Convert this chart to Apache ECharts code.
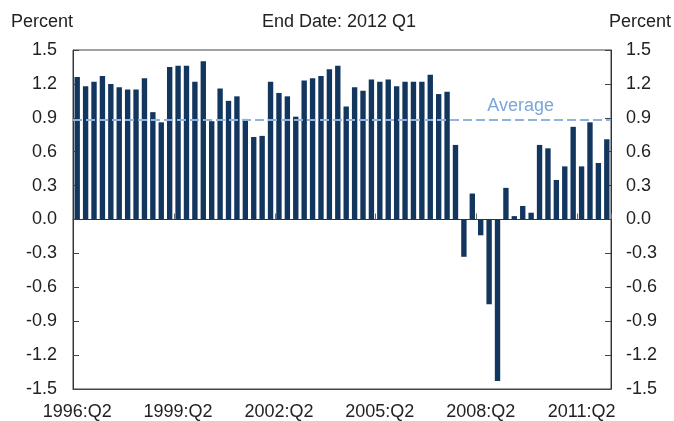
<!DOCTYPE html>
<html><head><meta charset="utf-8">
<script src="https://cdn.jsdelivr.net/npm/echarts@6/dist/echarts.min.js"></script>
<style>html,body{margin:0;padding:0;background:#fff}#c{width:674px;height:421px}</style>
</head><body><div id="c"></div>
<script>
// Quarterly categories 1996:Q2 .. 2012:Q1
const quarters = [];
for (let y = 1996; y <= 2012; y++) {
  for (let q = 1; q <= 4; q++) {
    if ((y === 1996 && q < 2) || (y === 2012 && q > 1)) continue;
    quarters.push(y + ':Q' + q);
  }
}
const values = [
  1.26, 1.18, 1.22, 1.27, 1.20, 1.17, 1.15, 1.15, 1.25, 0.95, 0.86, 1.35,
  1.36, 1.36, 1.22, 1.40, 0.87, 1.16, 1.05, 1.09, 0.89, 0.73, 0.74, 1.22,
  1.12, 1.09, 0.91, 1.23, 1.25, 1.27, 1.33, 1.36, 1.00, 1.17, 1.14, 1.24,
  1.22, 1.24, 1.18, 1.22, 1.22, 1.22, 1.28, 1.11, 1.13, 0.66,
  -0.33, 0.23, -0.14, -0.75, -1.43, 0.28, 0.03, 0.12, 0.06, 0.66, 0.63, 0.35,
  0.47, 0.82, 0.47, 0.86, 0.50, 0.71
];
const averageValue = 0.88;
const averageLabel = 'Average';
const yMin = -1.5, yMax = 1.5, yStep = 0.3;
const titleText = 'End Date: 2012 Q1';
const unitText = 'Percent';

const FONT = 'Liberation Sans, Arial, sans-serif';
const TXT = '#222';
const chart = echarts.init(document.getElementById('c'));
const yAxisBase = {
  type: 'value', min: yMin, max: yMax, interval: yStep,
  splitLine: { show: false },
  axisLine: { show: true, lineStyle: { color: '#333', width: 1 } },
  axisTick: { show: true, inside: true, length: 6, lineStyle: { color: '#444' } },
  axisLabel: { fontSize: 18, color: TXT, fontFamily: FONT, margin: 16,
    formatter: v => (Math.abs(v) < 1e-9 ? 0 : v).toFixed(1) }
};
chart.setOption({
  animation: false,
  backgroundColor: '#fff',
  title: [
    { text: unitText, left: 6, top: 8, textStyle: { fontSize: 18, fontWeight: 'normal', color: TXT, fontFamily: FONT } },
    { text: titleText, left: 257, top: 8, textStyle: { fontSize: 18, fontWeight: 'normal', color: TXT, fontFamily: FONT } },
    { text: unitText, right: -2, top: 8, textStyle: { fontSize: 18, fontWeight: 'normal', color: TXT, fontFamily: FONT } }
  ],
  grid: { left: 73, right: 63, top: 50, bottom: 30, show: true, borderColor: '#444', borderWidth: 1, backgroundColor: 'transparent' },
  xAxis: [
    {
      type: 'category', data: quarters, position: 'bottom',
      axisLine: { show: true, onZero: false, lineStyle: { color: '#444' } },
      axisTick: { show: false },
      axisLabel: { fontSize: 18, color: TXT, fontFamily: FONT, margin: 14,
        interval: (i) => i % 12 === 0 }
    },
    {
      type: 'category', data: quarters, position: 'bottom',
      axisLine: { show: true, onZero: true, lineStyle: { color: '#333', width: 1 } },
      axisTick: { show: true, inside: true, length: 6, interval: (i) => i % 12 === 0 && i > 0, lineStyle: { color: '#666' } },
      axisLabel: { show: false }
    }
  ],
  yAxis: [
    Object.assign({}, yAxisBase, { position: 'left' }),
    Object.assign({}, yAxisBase, { position: 'right', axisLabel: Object.assign({}, yAxisBase.axisLabel, { margin: 15 }) })
  ],
  series: [{
    type: 'bar', data: values, xAxisIndex: 0, yAxisIndex: 0,
    barWidth: '64%',
    itemStyle: { color: '#13365f' },
    markLine: {
      silent: true, symbol: 'none',
      lineStyle: { color: '#8fb2de', type: [9, 4], width: 2 },
      label: { show: true, position: 'insideEndTop', formatter: averageLabel,
        color: '#7ea5d8', fontSize: 18, fontFamily: FONT, distance: 5, padding: [0, 52, 0, 0] },
      data: [{ yAxis: averageValue }]
    },
    z: 2
  }]
});
</script></body></html>
